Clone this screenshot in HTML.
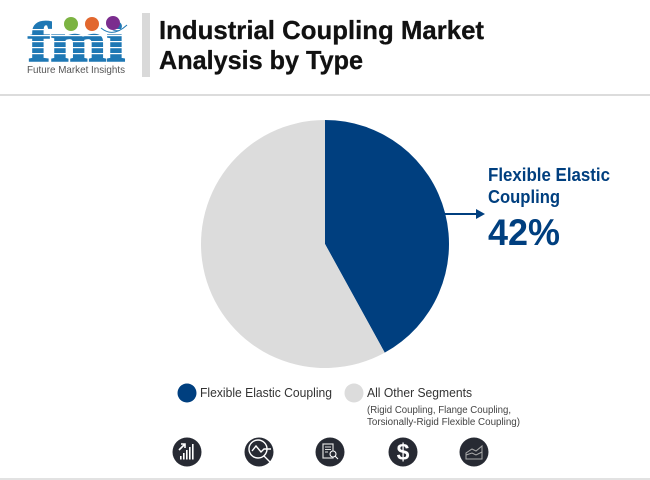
<!DOCTYPE html>
<html lang="en">
<head>
<meta charset="utf-8">
<title>Industrial Coupling Market Analysis by Type</title>
<style>
html,body{margin:0;padding:0;background:#fff}
#chart{display:block;width:650px;height:480px;font-family:"Liberation Sans",Arial,sans-serif}
</style>
</head>
<body>
<svg id="chart" xmlns="http://www.w3.org/2000/svg" width="650" height="480" viewBox="0 0 650 480">
  <rect width="650" height="480" fill="#fff"/>

  <g>
    <text x="28" y="61" font-family="Liberation Serif" font-weight="700" font-size="56" fill="#1f78b4" stroke="#1f78b4" stroke-width="1.6" textLength="97" lengthAdjust="spacingAndGlyphs">fmi</text>
    <g fill="#fff">
      <rect x="24" y="29" width="106" height="1.2"/>
      <rect x="24" y="35" width="106" height="1.2"/>
      <rect x="24" y="41" width="106" height="1.2"/>
      <rect x="24" y="47" width="106" height="1.2"/>
      <rect x="24" y="53" width="106" height="1.2"/>
    </g>
    <circle cx="71" cy="24" r="7" fill="#7cb342"/>
    <circle cx="92" cy="24" r="7" fill="#e2672e"/>
    <circle cx="113" cy="23" r="7" fill="#7b2d8e"/>
    <path d="M101 28 Q113 38 127 25" fill="none" stroke="#1f78b4" stroke-width="1"/>
    <text x="27" y="73" font-size="10.5" fill="#555" textLength="98" lengthAdjust="spacingAndGlyphs">Future Market Insights</text>
  </g>

  <rect x="142" y="13" width="8" height="64" fill="#d9d9d9"/>
  <text x="159" y="39" font-size="26" font-weight="700" fill="#111" stroke="#111" stroke-width="0.3" textLength="325" lengthAdjust="spacingAndGlyphs">Industrial Coupling Market</text>
  <text x="159" y="69" font-size="26" font-weight="700" fill="#111" stroke="#111" stroke-width="0.3" textLength="204" lengthAdjust="spacingAndGlyphs">Analysis by Type</text>
  <rect x="0" y="94" width="650" height="2" fill="#dcdcdc"/>

  <g id="pie"></g>

  <g>
    <rect x="445" y="213" width="32" height="2" fill="#003f7f"/>
    <polygon points="485,214 476,209 476,219" fill="#003f7f"/>
    <text x="488" y="181" font-size="18" font-weight="700" fill="#003f7f" textLength="122" lengthAdjust="spacingAndGlyphs">Flexible Elastic</text>
    <text x="488" y="203" font-size="18" font-weight="700" fill="#003f7f" textLength="72" lengthAdjust="spacingAndGlyphs">Coupling</text>
    <text x="488" y="245" font-size="37" font-weight="700" fill="#003f7f" textLength="72" lengthAdjust="spacingAndGlyphs">42%</text>
  </g>

  <g>
    <circle cx="187" cy="393" r="9.5" fill="#003f7f"/>
    <text x="200" y="397" font-size="13" fill="#333" textLength="132" lengthAdjust="spacingAndGlyphs">Flexible Elastic Coupling</text>
    <circle cx="354" cy="393" r="9.5" fill="#dcdcdc"/>
    <text x="367" y="397" font-size="13" fill="#333" textLength="105" lengthAdjust="spacingAndGlyphs">All Other Segments</text>
    <text x="367" y="413" font-size="10" fill="#444" textLength="144" lengthAdjust="spacingAndGlyphs">(Rigid Coupling, Flange Coupling,</text>
    <text x="367" y="425" font-size="10" fill="#444" textLength="153" lengthAdjust="spacingAndGlyphs">Torsionally-Rigid Flexible Coupling)</text>
  </g>

  <g>
    <g>
      <circle cx="187" cy="452" r="14.5" fill="#272a33"/>
      <g fill="#fff"><rect x="180" y="456" width="1.6" height="3.5"/><rect x="183" y="453" width="1.6" height="6.5"/><rect x="186" y="450" width="1.6" height="9.5"/><rect x="189" y="447" width="1.6" height="12.5"/><rect x="192" y="444" width="1.6" height="15.5"/></g>
      <path d="M179 450 L185 444 M181 444 H185 V448" fill="none" stroke="#fff" stroke-width="1.6"/>
    </g>
    <g>
      <circle cx="259" cy="452" r="14.5" fill="#272a33"/>
      <circle cx="258" cy="449" r="9" fill="none" stroke="#fff" stroke-width="1.4"/>
      <path d="M252 451 L256 446 L261 452 L264 449 H271 M264 456 L271 463" fill="none" stroke="#fff" stroke-width="1.4"/>
    </g>
    <g>
      <circle cx="330" cy="452" r="14.5" fill="#272a33"/>
      <rect x="323" y="444" width="10" height="14" fill="none" stroke="#ddd" stroke-width="1.2"/>
      <path d="M325 447 H331 M325 449.5 H331 M325 452 H328" stroke="#ddd" stroke-width="1"/>
      <circle cx="333" cy="454" r="3" fill="#272a33" stroke="#fff" stroke-width="1.1"/>
      <path d="M335 456 L338 459" stroke="#fff" stroke-width="1.1"/>
    </g>
    <g>
      <circle cx="403" cy="452" r="14.5" fill="#272a33"/>
      <text x="403" y="460" font-size="23" font-weight="700" fill="#fff" text-anchor="middle">$</text>
    </g>
    <g>
      <circle cx="474" cy="452" r="14.5" fill="#272a33"/>
      <path d="M466 459 V453 L472 449 L476 451 L482 446 V459 Z" fill="none" stroke="#aaa" stroke-width="1"/>
      <path d="M466 455 L472 453 L476 455 L482 452" fill="none" stroke="#aaa" stroke-width="1"/>
    </g>
  </g>

  <rect x="0" y="478" width="650" height="2" fill="#e2e2e2"/>

<script>
const categories = ['Flexible Elastic Coupling', 'All Other Segments'];
const shareValues = [42, 58];
const sliceColors = ['#003f7f', '#dcdcdc'];

const svgNS = 'http://www.w3.org/2000/svg';
const cx = 325, cy = 244, radius = 124;
const total = shareValues.reduce(function (a, b) { return a + b; }, 0);

function angleOf(v) { return v / total * Math.PI * 2; }
function pointAt(a) { return [cx + radius * Math.sin(a), cy - radius * Math.cos(a)]; }

const pieGroup = document.getElementById('pie');
let running = 0;
shareValues.forEach(function (v, i) {
  const start = angleOf(running);
  running += v;
  const end = angleOf(running);
  const p0 = pointAt(start);
  const p1 = pointAt(end);
  const large = end - start > Math.PI ? 1 : 0;
  const el = document.createElementNS(svgNS, 'path');
  el.setAttribute('d', 'M' + cx + ' ' + cy + ' L' + p0[0] + ' ' + p0[1] + ' A' + radius + ' ' + radius + ' 0 ' + large + ' 1 ' + p1[0] + ' ' + p1[1] + ' Z');
  el.setAttribute('fill', sliceColors[i]);
  
  
  const tip = document.createElementNS(svgNS, 'title');
  tip.textContent = categories[i] + ': ' + v + '%';
  el.appendChild(tip);
  pieGroup.appendChild(el);
});
</script>
</svg>
</body>
</html>
